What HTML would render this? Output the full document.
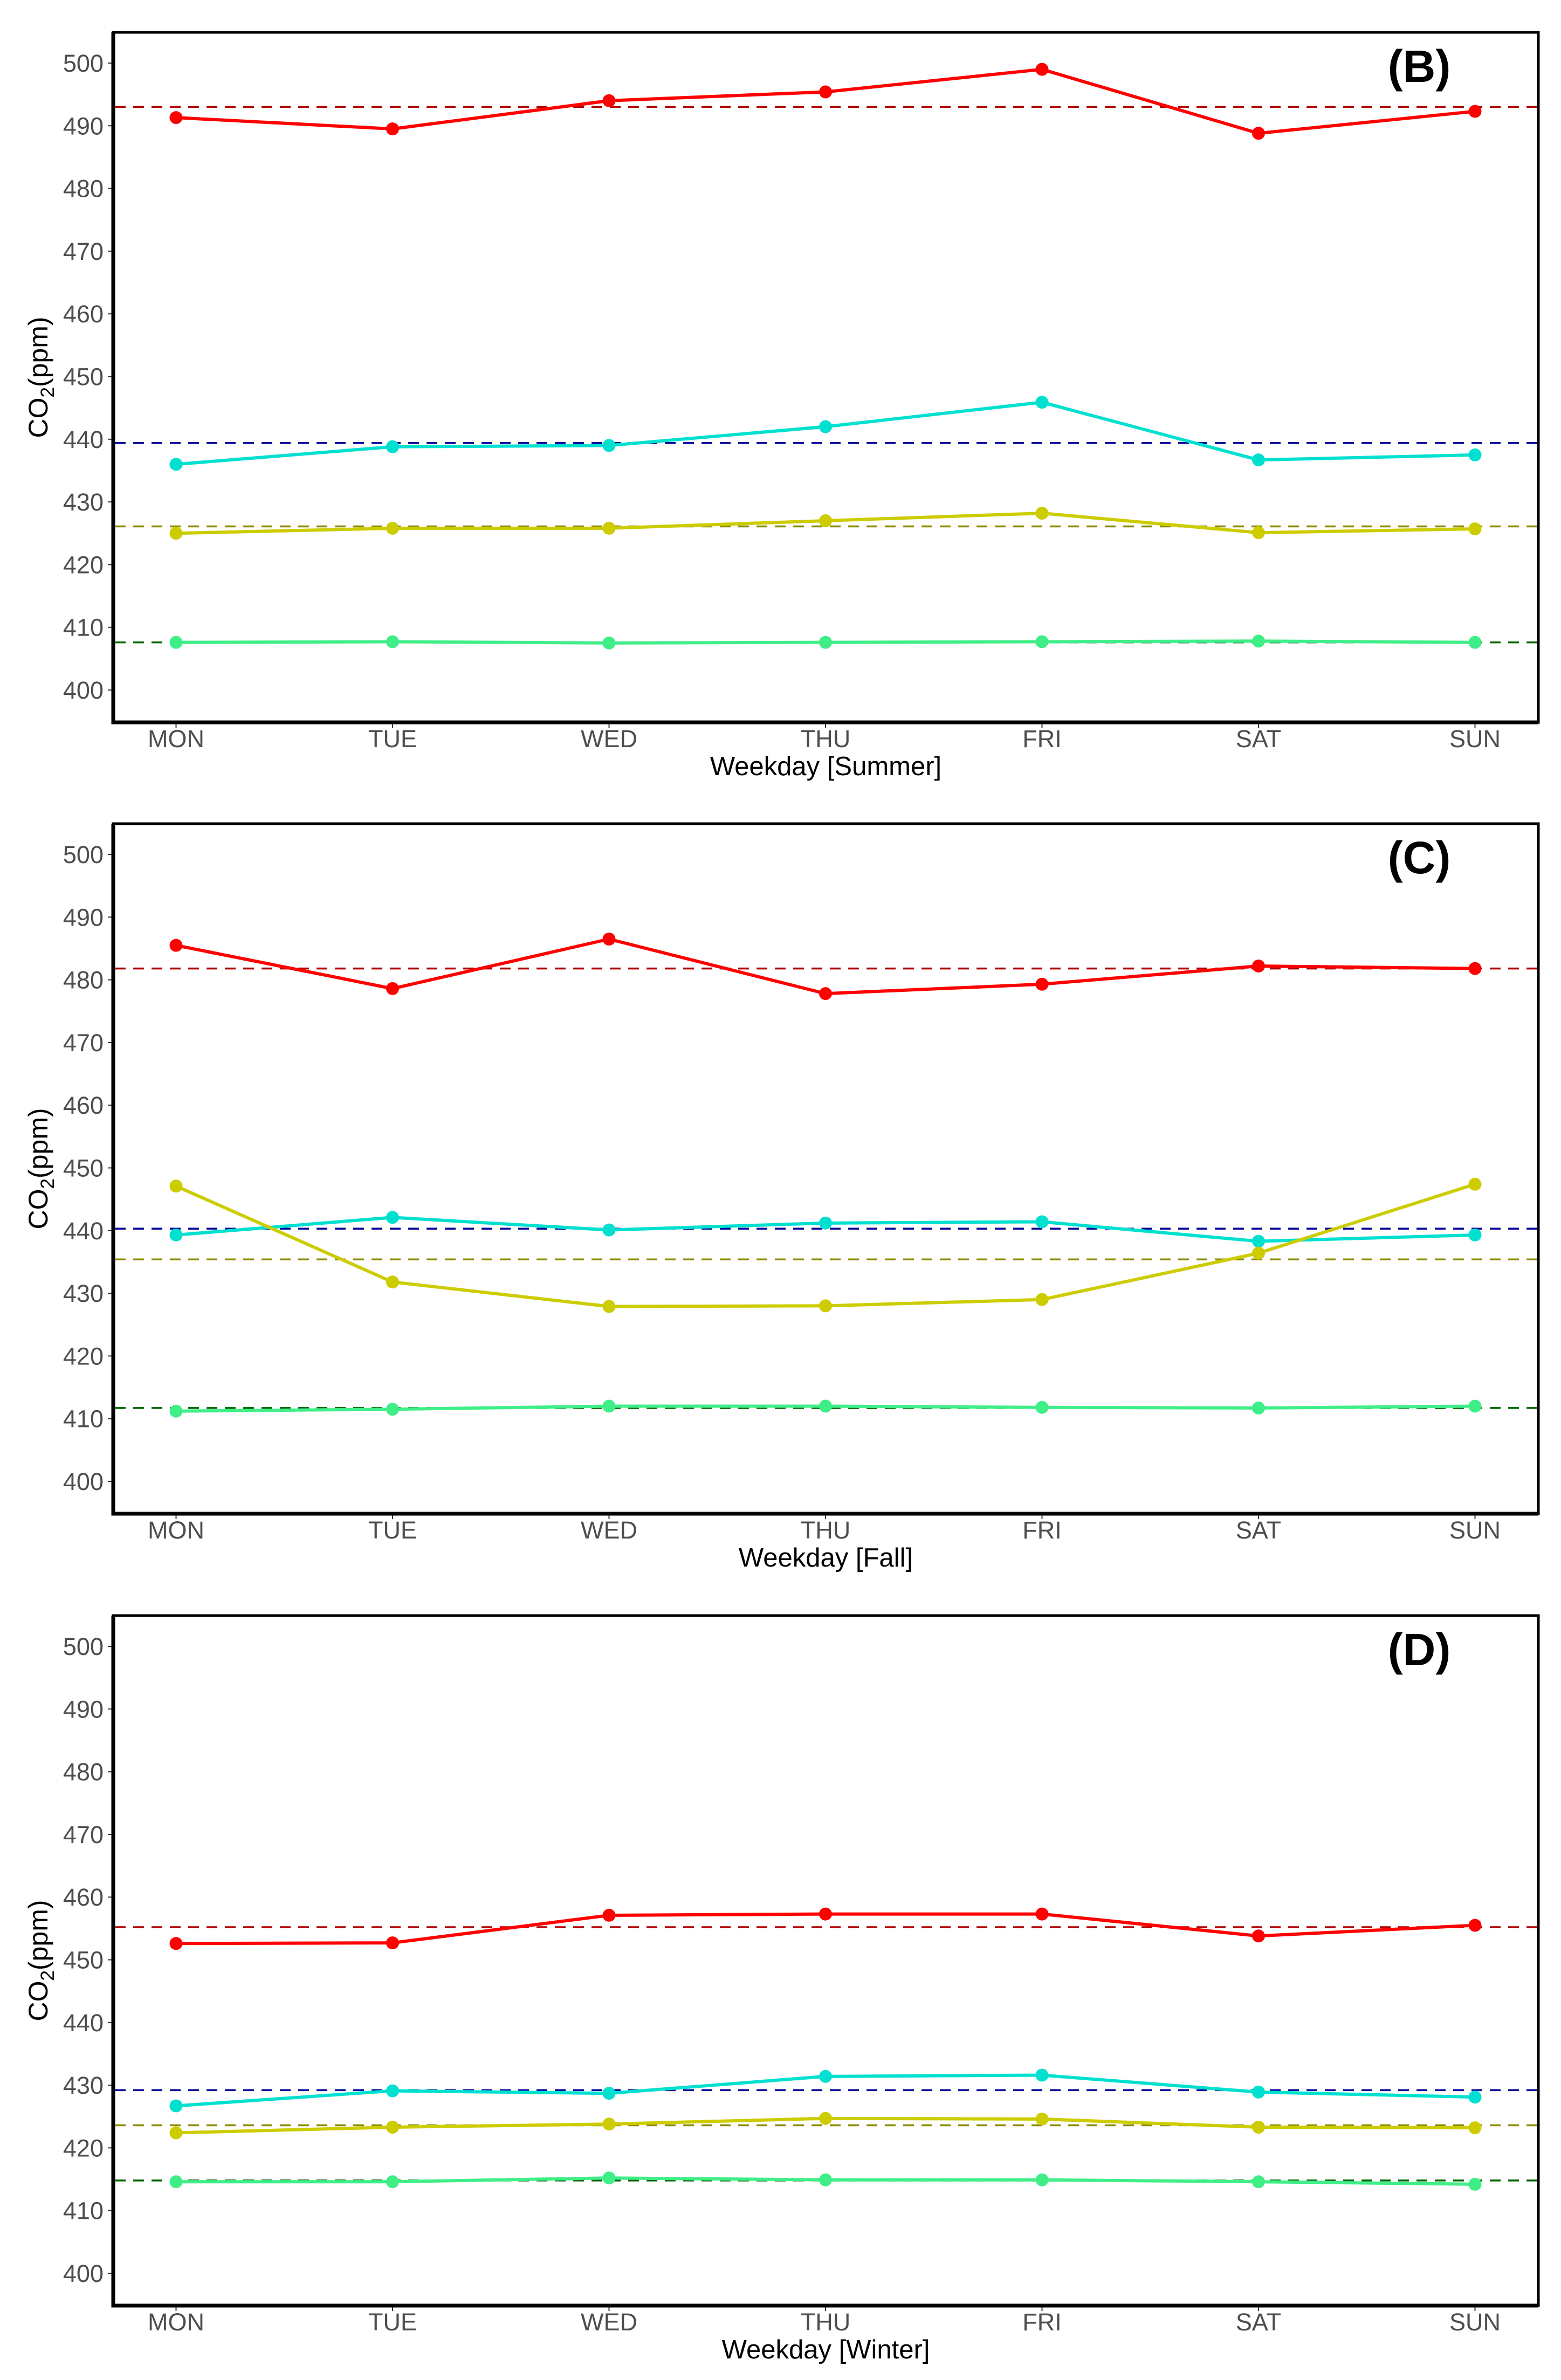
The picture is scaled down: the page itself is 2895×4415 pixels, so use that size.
<!DOCTYPE html>
<html><head><meta charset="utf-8"><style>
html,body{margin:0;padding:0;background:#fff;}
svg{display:block;}
text{font-family:"Liberation Sans",Arial,sans-serif;}
</style></head><body>
<svg id="chart" width="2895" height="4415" viewBox="0 0 2895 4415" xmlns="http://www.w3.org/2000/svg"></svg>
<script>
// ---- data ----
const days = ["MON","TUE","WED","THU","FRI","SAT","SUN"];
const yTicks = [400,410,420,430,440,450,460,470,480,490,500];
const panelLabels = ["(B)","(C)","(D)"];
const seasonTitles = ["Weekday [Summer]","Weekday [Fall]","Weekday [Winter]"];
// Summer
const summerRed = [491.3,489.5,494.0,495.4,499.0,488.8,492.3];
const summerCyan = [436.0,438.8,439.0,442.0,445.9,436.7,437.5];
const summerYellow = [425.0,425.8,425.8,427.0,428.2,425.1,425.7];
const summerGreen = [407.6,407.7,407.5,407.6,407.7,407.8,407.6];
const summerMeans = [493.0,439.4,426.1,407.6];
// Fall
const fallRed = [485.5,478.6,486.5,477.8,479.3,482.2,481.8];
const fallCyan = [439.3,442.1,440.1,441.2,441.4,438.3,439.3];
const fallYellow = [447.1,431.8,427.9,428.0,429.0,436.4,447.4];
const fallGreen = [411.2,411.5,412.0,412.0,411.8,411.7,412.0];
const fallMeans = [481.8,440.3,435.4,411.7];
// Winter
const winterRed = [452.6,452.7,457.1,457.3,457.3,453.8,455.5];
const winterCyan = [426.7,429.1,428.7,431.4,431.6,428.9,428.1];
const winterYellow = [422.4,423.3,423.8,424.7,424.6,423.3,423.2];
const winterGreen = [414.6,414.6,415.2,414.9,414.9,414.6,414.2];
const winterMeans = [455.2,429.2,423.6,414.8];

const NS = "http://www.w3.org/2000/svg";
const svg = document.getElementById("chart");
function mk(tag, attrs, parent){
  const e = document.createElementNS(NS, tag);
  for (const k in attrs) e.setAttribute(k, attrs[k]);
  (parent||svg).appendChild(e);
  return e;
}
const lineColors = ["#ff0000","#00e0d0","#cccc00","#40ee88"];
const meanColors = ["#b00000","#000099","#8b8b00","#006400"];
const seriesNames = ["red","cyan","yellow","green"];
const panels = [
  {top:60, series:[summerRed,summerCyan,summerYellow,summerGreen], means:summerMeans, name:"summer"},
  {top:1528, series:[fallRed,fallCyan,fallYellow,fallGreen], means:fallMeans, name:"fall"},
  {top:2997, series:[winterRed,winterCyan,winterYellow,winterGreen], means:winterMeans, name:"winter"}
];
const L = 210, R = 2853, H = 1280;
function xScale(i){ return 326.5 + i*401.5; }

panels.forEach((p, pi) => {
  const g = mk("g", {});
  
  
  const yScale = v => p.top + 57 + (500 - v) * 11.63;
  const bottom = p.top + H;
  const fr = mk("rect", {x:L, y:p.top, width:R-L, height:H, fill:"#fff", stroke:"#000", "stroke-width":5}, g);
  
  
  yTicks.forEach(t => {
    const y = yScale(t);
    const tk = mk("line", {x1:L-10, x2:L, y1:y, y2:y, stroke:"#333", "stroke-width":2}, g);
    
    
    const tl = mk("text", {x:L-18, y:y+16, "text-anchor":"end", "font-size":45, fill:"#4d4d4d"}, g);
    tl.textContent = t;
    
    
  });
  days.forEach((d, i) => {
    const x = xScale(i);
    const tk = mk("line", {x1:x, x2:x, y1:bottom, y2:bottom+10, stroke:"#333", "stroke-width":2}, g);
    
    
    const tl = mk("text", {x:x, y:bottom+46, "text-anchor":"middle", "font-size":45, fill:"#4d4d4d"}, g);
    tl.textContent = d;
    
    
  });
  const ax = mk("path", {d:`M${L} ${p.top} V${bottom} H${R}`, fill:"none", stroke:"#000", "stroke-width":7}, g);
  
  
  p.means.forEach((m, si) => {
    const y = yScale(m);
    const ml = mk("line", {x1:L+3, x2:R-3, y1:y, y2:y, stroke:meanColors[si], "stroke-width":3.5, "stroke-dasharray":"20 14"}, g);
    
    
  });
  p.series.forEach((vals, si) => {
    const pts = vals.map((v, i) => xScale(i) + "," + yScale(v)).join(" ");
    const pl = mk("polyline", {points:pts, fill:"none", stroke:lineColors[si], "stroke-width":6, "stroke-linejoin":"round"}, g);
    
    
    vals.forEach((v, i) => {
      const c = mk("circle", {cx:xScale(i), cy:yScale(v), r:12, fill:lineColors[si]}, g);
      
      
    });
  });
  const pl = mk("text", {x:2632, y:p.top+92, "text-anchor":"middle", "font-size":84, "font-weight":"bold", fill:"#000"}, g);
  pl.textContent = panelLabels[pi];
  
  
  const xt = mk("text", {x:(L+R)/2, y:bottom+98, "text-anchor":"middle", "font-size":49, fill:"#000"}, g);
  xt.textContent = seasonTitles[pi];
  
  
  const cy = p.top + H/2;
  const yt = mk("text", {x:0, y:0, "text-anchor":"middle", "font-size":50, fill:"#000", transform:`translate(88 ${cy}) rotate(-90)`}, g);
  
  
  const t1 = mk("tspan", {}, yt); t1.textContent = "CO";
  const t2 = mk("tspan", {dy:12, "font-size":35}, yt); t2.textContent = "2";
  const t3 = mk("tspan", {dy:-12}, yt); t3.textContent = "(ppm)";
});
</script>
</body></html>
